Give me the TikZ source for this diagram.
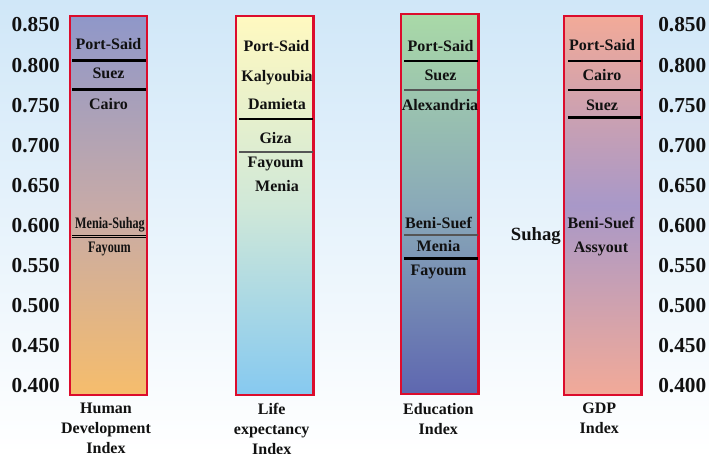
\documentclass[tikz,border=0pt]{standalone}
\usepackage{fontspec}
\setmainfont{Liberation Serif}
\usepackage{graphicx}
\definecolor{bgtop}{HTML}{D0E7F8}
\definecolor{frame}{HTML}{DC0C2C}
\definecolor{hdiA}{HTML}{8F97C9}
\definecolor{hdiB}{HTML}{C6AAA8}
\definecolor{hdiC}{HTML}{F6BD6C}
\definecolor{leA}{HTML}{FFF9C0}
\definecolor{leB}{HTML}{D0E8D8}
\definecolor{leC}{HTML}{86C9F0}
\definecolor{eiA}{HTML}{A9D9A7}
\definecolor{eiB}{HTML}{8AAAB8}
\definecolor{eiC}{HTML}{5E67B0}
\definecolor{gdpA}{HTML}{F2AA98}
\definecolor{gdpB}{HTML}{A898C8}
\definecolor{sepgray}{HTML}{555555}
\definecolor{ink}{HTML}{111111}
\begin{document}
\begin{tikzpicture}[x=0.75pt,y=-0.75pt,
  barframe/.style={draw=frame,line width=2.2pt},
  sepline/.style={black,line width=1.6pt},
  grayline/.style={sepgray,line width=1.6pt},
  thinline/.style={black,line width=0.8pt},
  num/.style={inner sep=0pt,font=\fontsize{16}{18}\selectfont\bfseries,text=ink},
  place/.style={inner sep=0pt,anchor=base,font=\fontsize{12}{14}\selectfont\bfseries,text=ink},
  caption/.style={inner sep=0pt,anchor=north,align=center,font=\fontsize{12}{15}\selectfont\bfseries,text=ink}]
\useasboundingbox (0,0) rectangle (709,453);
% background
\shade[top color=bgtop,bottom color=white] (0,0) rectangle (709,453);

% scale values, both sides
\foreach \v [count=\i from 0] in {0.850,0.800,0.750,0.700,0.650,0.600,0.550,0.500,0.450,0.400}{
  \node[num,anchor=east] (sl\i) at (60,{25+40.11*\i}) {\v};
  \node[num,anchor=west] (sr\i) at (658,{25+40.11*\i}) {\v};
}

% Human Development Index
\shade[top color=hdiA,bottom color=hdiC,middle color=hdiB] (70,16) rectangle (147,395);
\draw[barframe] (70,16) rectangle (147,395);
\draw[sepline] (72,60.5) -- (146,60.5);
\draw[sepline] (72,89.5) -- (146,89.5);
\draw[thinline] (72,235.3) -- (146,235.3);
\draw[thinline] (72,237.8) -- (146,237.8);
\node[place] (h1) at (108.5,50) {Port-Said};
\node[place] (h2) at (108.5,79) {Suez};
\node[place] (h3) at (108.5,109.5) {Cairo};
\node[place] (h4) at (110,228.5) {\scalebox{0.76}[1]{Menia-Suhag}};
\node[place] (h5) at (109.5,252.5) {\scalebox{0.76}[1]{Fayoum}};
\node[caption] (hc) at (106,403) {Human\\Development\\Index};

% Life expectancy Index
\shade[top color=leA,bottom color=leC,middle color=leB] (236,16) rectangle (313.5,395);
\draw[barframe] (236,16) rectangle (313.5,395);
\draw[sepline] (239,118.7) -- (312.5,118.7);
\draw[grayline] (239,151.7) -- (312.5,151.7);
\node[place] (l1) at (276.5,51) {Port-Said};
\node[place] (l2) at (277,81) {Kalyoubia};
\node[place] (l3) at (277,109.5) {Damieta};
\node[place] (l4) at (275.5,143.5) {Giza};
\node[place] (l5) at (275.5,167.5) {Fayoum};
\node[place] (l6) at (277,191) {Menia};
\node[caption] (lc) at (271.7,403) {Life\\expectancy\\Index};

% Education Index
\shade[top color=eiA,bottom color=eiC,middle color=eiB] (401,14) rectangle (478.5,394);
\draw[barframe] (401,14) rectangle (478.5,394);
\draw[sepline] (404,61.3) -- (477.5,61.3);
\draw[grayline] (404,90.3) -- (477.5,90.3);
\draw[grayline] (404,234.7) -- (477.5,234.7);
\draw[sepline] (404,258.5) -- (477.5,258.5);
\node[place] (e1) at (440.5,51) {Port-Said};
\node[place] (e2) at (440.5,80) {Suez};
\node[place] (e3) at (440,110) {Alexandria};
\node[place] (e4) at (438.5,228) {Beni-Suef};
\node[place] (e5) at (438.5,251.3) {Menia};
\node[place] (e6) at (438.5,275.3) {Fayoum};
\node[caption] (ec) at (438.3,403) {Education\\Index};

% GDP Index
\shade[top color=gdpA,bottom color=gdpA,middle color=gdpB] (564,16) rectangle (641.5,395);
\draw[barframe] (564,16) rectangle (641.5,395);
\draw[sepline] (568,61.3) -- (640.5,61.3);
\draw[sepline] (568,90.3) -- (640.5,90.3);
\draw[sepline] (568,117.5) -- (640.5,117.5);
\node[place] (g1) at (602,50.5) {Port-Said};
\node[place] (g2) at (602,80.5) {Cairo};
\node[place] (g3) at (602,110.3) {Suez};
\node[place] (g4) at (601,228) {Beni-Suef};
\node[place] (g5) at (601,252) {Assyout};
\node[place,anchor=base east,font=\fontsize{14}{16}\selectfont\bfseries] (g6) at (561,240.5) {Suhag};
\node[caption] (gc) at (599.3,403) {GDP\\Index};
\end{tikzpicture}
\end{document}
